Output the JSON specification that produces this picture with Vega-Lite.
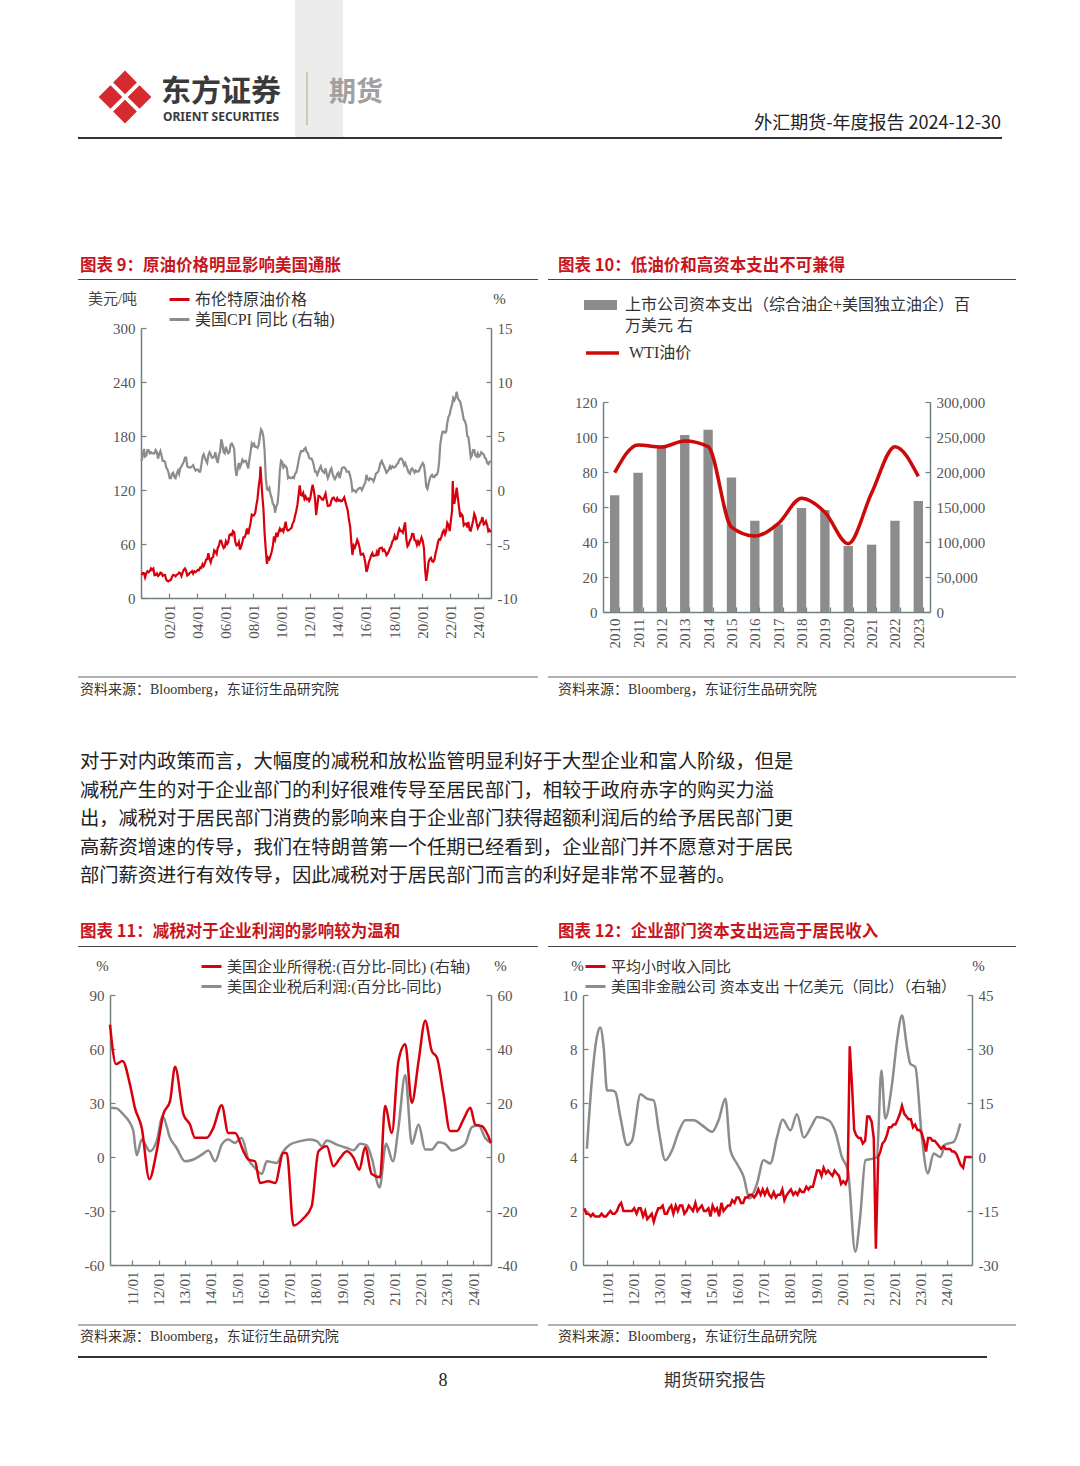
{
"$schema": "https://vega.github.io/schema/vega-lite/v6.json",
"width": 1080, "height": 1466,
"autosize": {"type": "none"},
"padding": 0,
"background": "#ffffff",
"data": {"values": [{}]},
"datasets": {
"brent": [
{"t":2000.04,"v":25.5},{"t":2000.13,"v":27.8},{"t":2000.21,"v":27.5},{"t":2000.29,"v":22.8},{"t":2000.38,"v":27.6},{"t":2000.46,"v":29.8},{"t":2000.54,"v":28.6},{"t":2000.63,"v":30.1},{"t":2000.71,"v":32.9},{"t":2000.79,"v":31.1},{"t":2000.88,"v":32.6},{"t":2000.96,"v":25.3},
{"t":2001.04,"v":25.6},{"t":2001.13,"v":27.4},{"t":2001.21,"v":24.5},{"t":2001.29,"v":25.6},{"t":2001.38,"v":28.2},{"t":2001.46,"v":27.6},{"t":2001.54,"v":24.5},{"t":2001.63,"v":25.7},{"t":2001.71,"v":25.6},{"t":2001.79,"v":20.5},{"t":2001.88,"v":18.9},{"t":2001.96,"v":18.6},
{"t":2002.04,"v":19.4},{"t":2002.13,"v":20.3},{"t":2002.21,"v":23.7},{"t":2002.29,"v":25.7},{"t":2002.38,"v":25.4},{"t":2002.46,"v":24.1},{"t":2002.54,"v":25.7},{"t":2002.63,"v":26.6},{"t":2002.71,"v":28.4},{"t":2002.79,"v":27.6},{"t":2002.88,"v":24.3},{"t":2002.96,"v":28.3},
{"t":2003.04,"v":31.2},{"t":2003.13,"v":32.8},{"t":2003.21,"v":30.3},{"t":2003.29,"v":25.0},{"t":2003.38,"v":25.8},{"t":2003.46,"v":27.6},{"t":2003.54,"v":28.4},{"t":2003.63,"v":29.8},{"t":2003.71,"v":27.1},{"t":2003.79,"v":29.6},{"t":2003.88,"v":28.8},{"t":2003.96,"v":29.8},
{"t":2004.04,"v":31.2},{"t":2004.13,"v":30.9},{"t":2004.21,"v":33.8},{"t":2004.29,"v":33.4},{"t":2004.38,"v":37.6},{"t":2004.46,"v":35.5},{"t":2004.54,"v":38.2},{"t":2004.63,"v":42.7},{"t":2004.71,"v":43.2},{"t":2004.79,"v":49.8},{"t":2004.88,"v":43.1},{"t":2004.96,"v":39.7},
{"t":2005.04,"v":44.3},{"t":2005.13,"v":45.6},{"t":2005.21,"v":53.1},{"t":2005.29,"v":51.9},{"t":2005.38,"v":49.0},{"t":2005.46,"v":55.6},{"t":2005.54,"v":57.9},{"t":2005.63,"v":63.8},{"t":2005.71,"v":63.7},{"t":2005.79,"v":58.9},{"t":2005.88,"v":55.5},{"t":2005.96,"v":56.7},
{"t":2006.04,"v":63.0},{"t":2006.13,"v":60.0},{"t":2006.21,"v":62.0},{"t":2006.29,"v":70.0},{"t":2006.38,"v":70.9},{"t":2006.46,"v":69.8},{"t":2006.54,"v":74.4},{"t":2006.63,"v":73.0},{"t":2006.71,"v":62.5},{"t":2006.79,"v":58.5},{"t":2006.88,"v":58.8},{"t":2006.96,"v":62.0},
{"t":2007.04,"v":53.7},{"t":2007.13,"v":57.6},{"t":2007.21,"v":62.1},{"t":2007.29,"v":67.4},{"t":2007.38,"v":67.5},{"t":2007.46,"v":71.3},{"t":2007.54,"v":77.2},{"t":2007.63,"v":70.8},{"t":2007.71,"v":77.1},{"t":2007.79,"v":82.9},{"t":2007.88,"v":92.5},{"t":2007.96,"v":91.5},
{"t":2008.04,"v":91.9},{"t":2008.13,"v":94.8},{"t":2008.21,"v":103.3},{"t":2008.29,"v":110.4},{"t":2008.38,"v":124.6},{"t":2008.46,"v":133.5},{"t":2008.5,"v":146.0},{"t":2008.54,"v":135.0},{"t":2008.63,"v":113.9},{"t":2008.71,"v":99.1},{"t":2008.79,"v":72.8},{"t":2008.88,"v":53.2},{"t":2008.96,"v":38.0},
{"t":2009.04,"v":44.9},{"t":2009.13,"v":43.1},{"t":2009.21,"v":46.8},{"t":2009.29,"v":50.8},{"t":2009.38,"v":57.9},{"t":2009.46,"v":68.6},{"t":2009.54,"v":64.9},{"t":2009.63,"v":72.5},{"t":2009.71,"v":67.7},{"t":2009.79,"v":73.2},{"t":2009.88,"v":77.0},{"t":2009.96,"v":74.7},
{"t":2010.04,"v":76.2},{"t":2010.13,"v":73.8},{"t":2010.21,"v":78.8},{"t":2010.29,"v":84.8},{"t":2010.38,"v":75.9},{"t":2010.46,"v":74.8},{"t":2010.54,"v":75.6},{"t":2010.63,"v":77.0},{"t":2010.71,"v":78.0},{"t":2010.79,"v":82.7},{"t":2010.88,"v":85.3},{"t":2010.96,"v":91.4},
{"t":2011.04,"v":96.5},{"t":2011.13,"v":103.7},{"t":2011.21,"v":114.6},{"t":2011.29,"v":125.0},{"t":2011.38,"v":114.5},{"t":2011.46,"v":113.9},{"t":2011.54,"v":116.7},{"t":2011.63,"v":110.1},{"t":2011.71,"v":112.8},{"t":2011.79,"v":109.6},{"t":2011.88,"v":110.5},{"t":2011.96,"v":107.9},
{"t":2012.04,"v":110.7},{"t":2012.13,"v":119.3},{"t":2012.21,"v":126.0},{"t":2012.29,"v":119.8},{"t":2012.38,"v":110.3},{"t":2012.46,"v":92.0},{"t":2012.54,"v":102.6},{"t":2012.63,"v":113.4},{"t":2012.71,"v":113.0},{"t":2012.79,"v":111.5},{"t":2012.88,"v":109.5},{"t":2012.96,"v":109.2},
{"t":2013.04,"v":112.3},{"t":2013.13,"v":116.1},{"t":2013.21,"v":108.5},{"t":2013.29,"v":102.3},{"t":2013.38,"v":102.6},{"t":2013.46,"v":102.9},{"t":2013.54,"v":107.9},{"t":2013.63,"v":111.3},{"t":2013.71,"v":111.6},{"t":2013.79,"v":109.1},{"t":2013.88,"v":107.8},{"t":2013.96,"v":110.8},
{"t":2014.04,"v":108.1},{"t":2014.13,"v":108.9},{"t":2014.21,"v":107.5},{"t":2014.29,"v":107.8},{"t":2014.38,"v":109.7},{"t":2014.46,"v":111.8},{"t":2014.54,"v":106.8},{"t":2014.63,"v":101.6},{"t":2014.71,"v":97.1},{"t":2014.79,"v":87.4},{"t":2014.88,"v":79.4},{"t":2014.96,"v":62.3},
{"t":2015.04,"v":47.8},{"t":2015.13,"v":58.1},{"t":2015.21,"v":55.9},{"t":2015.29,"v":59.5},{"t":2015.38,"v":64.6},{"t":2015.46,"v":61.7},{"t":2015.54,"v":56.8},{"t":2015.63,"v":48.2},{"t":2015.71,"v":48.5},{"t":2015.79,"v":49.3},{"t":2015.88,"v":45.9},{"t":2015.96,"v":38.9},
{"t":2016.04,"v":29.0},{"t":2016.13,"v":33.4},{"t":2016.21,"v":39.8},{"t":2016.29,"v":43.3},{"t":2016.38,"v":47.7},{"t":2016.46,"v":49.9},{"t":2016.54,"v":46.6},{"t":2016.63,"v":47.2},{"t":2016.71,"v":47.2},{"t":2016.79,"v":51.4},{"t":2016.88,"v":47.1},{"t":2016.96,"v":54.9},
{"t":2017.04,"v":55.5},{"t":2017.13,"v":55.9},{"t":2017.21,"v":52.5},{"t":2017.29,"v":53.8},{"t":2017.38,"v":51.4},{"t":2017.46,"v":47.6},{"t":2017.54,"v":49.1},{"t":2017.63,"v":51.9},{"t":2017.71,"v":55.2},{"t":2017.79,"v":57.5},{"t":2017.88,"v":62.7},{"t":2017.96,"v":64.4},
{"t":2018.04,"v":69.1},{"t":2018.13,"v":65.3},{"t":2018.21,"v":66.0},{"t":2018.29,"v":72.1},{"t":2018.38,"v":76.9},{"t":2018.46,"v":74.4},{"t":2018.54,"v":74.3},{"t":2018.63,"v":72.5},{"t":2018.71,"v":78.9},{"t":2018.79,"v":84.0},{"t":2018.88,"v":64.7},{"t":2018.96,"v":57.4},
{"t":2019.04,"v":59.4},{"t":2019.13,"v":64.0},{"t":2019.21,"v":66.1},{"t":2019.29,"v":71.2},{"t":2019.38,"v":71.1},{"t":2019.46,"v":64.2},{"t":2019.54,"v":63.9},{"t":2019.63,"v":59.0},{"t":2019.71,"v":62.8},{"t":2019.79,"v":59.7},{"t":2019.88,"v":63.2},{"t":2019.96,"v":67.3},
{"t":2020.04,"v":63.7},{"t":2020.13,"v":55.5},{"t":2020.21,"v":32.0},{"t":2020.29,"v":19.0},{"t":2020.38,"v":29.4},{"t":2020.46,"v":40.3},{"t":2020.54,"v":43.2},{"t":2020.63,"v":44.7},{"t":2020.71,"v":40.9},{"t":2020.79,"v":40.2},{"t":2020.88,"v":42.7},{"t":2020.96,"v":49.9},
{"t":2021.04,"v":54.8},{"t":2021.13,"v":62.3},{"t":2021.21,"v":65.4},{"t":2021.29,"v":64.8},{"t":2021.38,"v":68.5},{"t":2021.46,"v":73.2},{"t":2021.54,"v":75.2},{"t":2021.63,"v":70.8},{"t":2021.71,"v":74.5},{"t":2021.79,"v":83.5},{"t":2021.88,"v":80.8},{"t":2021.96,"v":74.3},
{"t":2022.04,"v":85.5},{"t":2022.13,"v":97.1},{"t":2022.18,"v":130.0},{"t":2022.21,"v":117.3},{"t":2022.29,"v":104.6},{"t":2022.38,"v":113.3},{"t":2022.46,"v":122.7},{"t":2022.54,"v":111.9},{"t":2022.63,"v":100.5},{"t":2022.71,"v":89.8},{"t":2022.79,"v":93.3},{"t":2022.88,"v":91.4},{"t":2022.96,"v":80.9},
{"t":2023.04,"v":82.5},{"t":2023.13,"v":82.6},{"t":2023.21,"v":78.4},{"t":2023.29,"v":84.6},{"t":2023.38,"v":75.5},{"t":2023.46,"v":74.8},{"t":2023.54,"v":80.1},{"t":2023.63,"v":86.2},{"t":2023.71,"v":93.7},{"t":2023.79,"v":90.6},{"t":2023.88,"v":82.9},{"t":2023.96,"v":77.6},
{"t":2024.04,"v":80.1},{"t":2024.13,"v":83.5},{"t":2024.21,"v":85.4},{"t":2024.29,"v":89.9},{"t":2024.38,"v":81.8},{"t":2024.46,"v":82.6},{"t":2024.54,"v":85.3},{"t":2024.63,"v":80.9},{"t":2024.71,"v":74.3},{"t":2024.79,"v":75.6},{"t":2024.88,"v":73.0}
],
"cpi": [
{"t":2000.04,"v":2.7},{"t":2000.13,"v":3.2},{"t":2000.21,"v":3.8},{"t":2000.29,"v":3.1},{"t":2000.38,"v":3.2},{"t":2000.46,"v":3.7},{"t":2000.54,"v":3.7},{"t":2000.63,"v":3.4},{"t":2000.71,"v":3.5},{"t":2000.79,"v":3.4},{"t":2000.88,"v":3.4},{"t":2000.96,"v":3.4},
{"t":2001.04,"v":3.7},{"t":2001.13,"v":3.5},{"t":2001.21,"v":2.9},{"t":2001.29,"v":3.3},{"t":2001.38,"v":3.6},{"t":2001.46,"v":3.2},{"t":2001.54,"v":2.7},{"t":2001.63,"v":2.7},{"t":2001.71,"v":2.6},{"t":2001.79,"v":2.1},{"t":2001.88,"v":1.9},{"t":2001.96,"v":1.6},
{"t":2002.04,"v":1.1},{"t":2002.13,"v":1.1},{"t":2002.21,"v":1.5},{"t":2002.29,"v":1.6},{"t":2002.38,"v":1.2},{"t":2002.46,"v":1.1},{"t":2002.54,"v":1.5},{"t":2002.63,"v":1.8},{"t":2002.71,"v":1.5},{"t":2002.79,"v":2.0},{"t":2002.88,"v":2.2},{"t":2002.96,"v":2.4},
{"t":2003.04,"v":2.6},{"t":2003.13,"v":3.0},{"t":2003.21,"v":3.0},{"t":2003.29,"v":2.2},{"t":2003.38,"v":2.1},{"t":2003.46,"v":2.1},{"t":2003.54,"v":2.1},{"t":2003.63,"v":2.2},{"t":2003.71,"v":2.3},{"t":2003.79,"v":2.0},{"t":2003.88,"v":1.8},{"t":2003.96,"v":1.9},
{"t":2004.04,"v":1.9},{"t":2004.13,"v":1.7},{"t":2004.21,"v":1.7},{"t":2004.29,"v":2.3},{"t":2004.38,"v":3.1},{"t":2004.46,"v":3.3},{"t":2004.54,"v":3.0},{"t":2004.63,"v":2.7},{"t":2004.71,"v":2.5},{"t":2004.79,"v":3.2},{"t":2004.88,"v":3.5},{"t":2004.96,"v":3.3},
{"t":2005.04,"v":3.0},{"t":2005.13,"v":3.0},{"t":2005.21,"v":3.1},{"t":2005.29,"v":3.5},{"t":2005.38,"v":2.8},{"t":2005.46,"v":2.5},{"t":2005.54,"v":3.2},{"t":2005.63,"v":3.6},{"t":2005.71,"v":4.7},{"t":2005.79,"v":4.3},{"t":2005.88,"v":3.5},{"t":2005.96,"v":3.4},
{"t":2006.04,"v":4.0},{"t":2006.13,"v":3.6},{"t":2006.21,"v":3.4},{"t":2006.29,"v":3.5},{"t":2006.38,"v":4.2},{"t":2006.46,"v":4.3},{"t":2006.54,"v":4.1},{"t":2006.63,"v":3.8},{"t":2006.71,"v":2.1},{"t":2006.79,"v":1.3},{"t":2006.88,"v":2.0},{"t":2006.96,"v":2.5},
{"t":2007.04,"v":2.1},{"t":2007.13,"v":2.4},{"t":2007.21,"v":2.8},{"t":2007.29,"v":2.6},{"t":2007.38,"v":2.7},{"t":2007.46,"v":2.7},{"t":2007.54,"v":2.4},{"t":2007.63,"v":2.0},{"t":2007.71,"v":2.8},{"t":2007.79,"v":3.5},{"t":2007.88,"v":4.3},{"t":2007.96,"v":4.1},
{"t":2008.04,"v":4.3},{"t":2008.13,"v":4.0},{"t":2008.21,"v":4.0},{"t":2008.29,"v":3.9},{"t":2008.38,"v":4.2},{"t":2008.46,"v":5.0},{"t":2008.54,"v":5.6},{"t":2008.63,"v":5.4},{"t":2008.71,"v":4.9},{"t":2008.79,"v":3.7},{"t":2008.88,"v":1.1},{"t":2008.96,"v":0.1},
{"t":2009.04,"v":0.0},{"t":2009.13,"v":0.2},{"t":2009.21,"v":-0.4},{"t":2009.29,"v":-0.7},{"t":2009.38,"v":-1.3},{"t":2009.46,"v":-1.4},{"t":2009.54,"v":-2.1},{"t":2009.63,"v":-1.5},{"t":2009.71,"v":-1.3},{"t":2009.79,"v":-0.2},{"t":2009.88,"v":1.8},{"t":2009.96,"v":2.7},
{"t":2010.04,"v":2.6},{"t":2010.13,"v":2.1},{"t":2010.21,"v":2.3},{"t":2010.29,"v":2.2},{"t":2010.38,"v":2.0},{"t":2010.46,"v":1.1},{"t":2010.54,"v":1.2},{"t":2010.63,"v":1.1},{"t":2010.71,"v":1.1},{"t":2010.79,"v":1.2},{"t":2010.88,"v":1.1},{"t":2010.96,"v":1.5},
{"t":2011.04,"v":1.6},{"t":2011.13,"v":2.1},{"t":2011.21,"v":2.7},{"t":2011.29,"v":3.2},{"t":2011.38,"v":3.6},{"t":2011.46,"v":3.6},{"t":2011.54,"v":3.6},{"t":2011.63,"v":3.8},{"t":2011.71,"v":3.9},{"t":2011.79,"v":3.5},{"t":2011.88,"v":3.4},{"t":2011.96,"v":3.0},
{"t":2012.04,"v":2.9},{"t":2012.13,"v":2.9},{"t":2012.21,"v":2.7},{"t":2012.29,"v":2.3},{"t":2012.38,"v":1.7},{"t":2012.46,"v":1.7},{"t":2012.54,"v":1.4},{"t":2012.63,"v":1.7},{"t":2012.71,"v":2.0},{"t":2012.79,"v":2.2},{"t":2012.88,"v":1.8},{"t":2012.96,"v":1.7},
{"t":2013.04,"v":1.6},{"t":2013.13,"v":2.0},{"t":2013.21,"v":1.5},{"t":2013.29,"v":1.1},{"t":2013.38,"v":1.4},{"t":2013.46,"v":1.8},{"t":2013.54,"v":2.0},{"t":2013.63,"v":1.5},{"t":2013.71,"v":1.2},{"t":2013.79,"v":1.0},{"t":2013.88,"v":1.2},{"t":2013.96,"v":1.5},
{"t":2014.04,"v":1.6},{"t":2014.13,"v":1.1},{"t":2014.21,"v":1.5},{"t":2014.29,"v":2.0},{"t":2014.38,"v":2.1},{"t":2014.46,"v":2.1},{"t":2014.54,"v":2.0},{"t":2014.63,"v":1.7},{"t":2014.71,"v":1.7},{"t":2014.79,"v":1.7},{"t":2014.88,"v":1.3},{"t":2014.96,"v":0.8},
{"t":2015.04,"v":-0.1},{"t":2015.13,"v":0.0},{"t":2015.21,"v":-0.1},{"t":2015.29,"v":-0.2},{"t":2015.38,"v":0.0},{"t":2015.46,"v":0.1},{"t":2015.54,"v":0.2},{"t":2015.63,"v":0.2},{"t":2015.71,"v":0.0},{"t":2015.79,"v":0.2},{"t":2015.88,"v":0.5},{"t":2015.96,"v":0.7},
{"t":2016.04,"v":1.4},{"t":2016.13,"v":1.0},{"t":2016.21,"v":0.9},{"t":2016.29,"v":1.1},{"t":2016.38,"v":1.0},{"t":2016.46,"v":1.0},{"t":2016.54,"v":0.8},{"t":2016.63,"v":1.1},{"t":2016.71,"v":1.5},{"t":2016.79,"v":1.6},{"t":2016.88,"v":1.7},{"t":2016.96,"v":2.1},
{"t":2017.04,"v":2.5},{"t":2017.13,"v":2.7},{"t":2017.21,"v":2.4},{"t":2017.29,"v":2.2},{"t":2017.38,"v":1.9},{"t":2017.46,"v":1.6},{"t":2017.54,"v":1.7},{"t":2017.63,"v":1.9},{"t":2017.71,"v":2.2},{"t":2017.79,"v":2.0},{"t":2017.88,"v":2.2},{"t":2017.96,"v":2.1},
{"t":2018.04,"v":2.1},{"t":2018.13,"v":2.2},{"t":2018.21,"v":2.4},{"t":2018.29,"v":2.5},{"t":2018.38,"v":2.8},{"t":2018.46,"v":2.9},{"t":2018.54,"v":2.9},{"t":2018.63,"v":2.7},{"t":2018.71,"v":2.3},{"t":2018.79,"v":2.5},{"t":2018.88,"v":2.2},{"t":2018.96,"v":1.9},
{"t":2019.04,"v":1.6},{"t":2019.13,"v":1.5},{"t":2019.21,"v":1.9},{"t":2019.29,"v":2.0},{"t":2019.38,"v":1.8},{"t":2019.46,"v":1.6},{"t":2019.54,"v":1.8},{"t":2019.63,"v":1.7},{"t":2019.71,"v":1.7},{"t":2019.79,"v":1.8},{"t":2019.88,"v":2.1},{"t":2019.96,"v":2.3},
{"t":2020.04,"v":2.5},{"t":2020.13,"v":2.3},{"t":2020.21,"v":1.5},{"t":2020.29,"v":0.3},{"t":2020.38,"v":0.1},{"t":2020.46,"v":0.6},{"t":2020.54,"v":1.0},{"t":2020.63,"v":1.3},{"t":2020.71,"v":1.4},{"t":2020.79,"v":1.2},{"t":2020.88,"v":1.2},{"t":2020.96,"v":1.4},
{"t":2021.04,"v":1.4},{"t":2021.13,"v":1.7},{"t":2021.21,"v":2.6},{"t":2021.29,"v":4.2},{"t":2021.38,"v":5.0},{"t":2021.46,"v":5.4},{"t":2021.54,"v":5.4},{"t":2021.63,"v":5.3},{"t":2021.71,"v":5.4},{"t":2021.79,"v":6.2},{"t":2021.88,"v":6.8},{"t":2021.96,"v":7.0},
{"t":2022.04,"v":7.5},{"t":2022.13,"v":7.9},{"t":2022.21,"v":8.5},{"t":2022.29,"v":8.3},{"t":2022.38,"v":8.6},{"t":2022.46,"v":9.1},{"t":2022.54,"v":8.5},{"t":2022.63,"v":8.3},{"t":2022.71,"v":8.2},{"t":2022.79,"v":7.7},{"t":2022.88,"v":7.1},{"t":2022.96,"v":6.5},
{"t":2023.04,"v":6.4},{"t":2023.13,"v":6.0},{"t":2023.21,"v":5.0},{"t":2023.29,"v":4.9},{"t":2023.38,"v":4.0},{"t":2023.46,"v":3.0},{"t":2023.54,"v":3.2},{"t":2023.63,"v":3.7},{"t":2023.71,"v":3.7},{"t":2023.79,"v":3.2},{"t":2023.88,"v":3.1},{"t":2023.96,"v":3.4},
{"t":2024.04,"v":3.1},{"t":2024.13,"v":3.2},{"t":2024.21,"v":3.5},{"t":2024.29,"v":3.4},{"t":2024.38,"v":3.3},{"t":2024.46,"v":3.0},{"t":2024.54,"v":2.9},{"t":2024.63,"v":2.5},{"t":2024.71,"v":2.4},{"t":2024.79,"v":2.6},{"t":2024.88,"v":2.7}
],
"c10": [
{"year":"2010","capex":166700,"wti":79.6},{"year":"2011","capex":199000,"wti":95.5},{"year":"2012","capex":236000,"wti":94.3},{"year":"2013","capex":252800,"wti":97.7},{"year":"2014","capex":260500,"wti":94.5},{"year":"2015","capex":192000,"wti":48.5},{"year":"2016","capex":130500,"wti":43.4},{"year":"2017","capex":125000,"wti":50.5},{"year":"2018","capex":148600,"wti":65.0},{"year":"2019","capex":145700,"wti":57.0},{"year":"2020","capex":94300,"wti":39.0},{"year":"2021","capex":96200,"wti":68.0},{"year":"2022","capex":130500,"wti":94.5},{"year":"2023","capex":158600,"wti":77.5}
],
"tax": [
{"t":2010.15,"v":49.0},{"t":2010.38,"v":34.4},{"t":2010.63,"v":35.6},{"t":2010.91,"v":26.9},{"t":2011.1,"v":18.2},{"t":2011.36,"v":10.8},{"t":2011.65,"v":-8.2},{"t":2011.93,"v":2.1},{"t":2012.18,"v":15.8},{"t":2012.44,"v":20.7},{"t":2012.63,"v":33.4},{"t":2012.95,"v":15.8},{"t":2013.2,"v":12.0},{"t":2013.39,"v":7.1},{"t":2013.84,"v":7.1},{"t":2014.09,"v":10.8},{"t":2014.41,"v":19.2},{"t":2014.66,"v":8.9},{"t":2014.92,"v":8.9},{"t":2015.24,"v":2.1},{"t":2015.43,"v":-1.0},{"t":2015.68,"v":-1.6},{"t":2015.87,"v":-9.6},{"t":2016.19,"v":-9.0},{"t":2016.45,"v":-9.6},{"t":2016.76,"v":1.5},{"t":2016.89,"v":1.5},{"t":2017.15,"v":-25.4},{"t":2017.53,"v":-22.7},{"t":2017.84,"v":-18.3},{"t":2018.1,"v":2.1},{"t":2018.42,"v":4.0},{"t":2018.67,"v":-3.4},{"t":2018.93,"v":-0.3},{"t":2019.18,"v":2.1},{"t":2019.44,"v":-0.3},{"t":2019.66,"v":-4.7},{"t":2019.88,"v":3.6},{"t":2020.13,"v":-6.3},{"t":2020.45,"v":-7.5},{"t":2020.64,"v":18.9},{"t":2020.9,"v":8.9},{"t":2021.15,"v":35.6},{"t":2021.41,"v":41.8},{"t":2021.66,"v":20.1},{"t":2021.92,"v":35.6},{"t":2022.17,"v":50.5},{"t":2022.42,"v":39.3},{"t":2022.62,"v":36.8},{"t":2022.87,"v":23.2},{"t":2023.12,"v":9.6},{"t":2023.38,"v":9.6},{"t":2023.63,"v":13.9},{"t":2023.89,"v":18.2},{"t":2024.08,"v":12.0},{"t":2024.34,"v":11.4},{"t":2024.68,"v":5.2}
],
"profit": [
{"t":2010.15,"v":27.4},{"t":2010.4,"v":27.0},{"t":2010.66,"v":23.6},{"t":2010.91,"v":19.0},{"t":2011.04,"v":14.3},{"t":2011.17,"v":1.0},{"t":2011.36,"v":9.7},{"t":2011.67,"v":3.2},{"t":2011.93,"v":8.8},{"t":2012.16,"v":22.7},{"t":2012.44,"v":10.6},{"t":2012.69,"v":5.0},{"t":2013.01,"v":-2.4},{"t":2013.33,"v":-1.4},{"t":2013.65,"v":1.3},{"t":2013.9,"v":3.6},{"t":2014.16,"v":-2.4},{"t":2014.41,"v":6.9},{"t":2014.66,"v":9.7},{"t":2014.92,"v":7.8},{"t":2015.17,"v":10.6},{"t":2015.43,"v":-1.4},{"t":2015.68,"v":-6.1},{"t":2015.94,"v":-9.4},{"t":2016.13,"v":-2.4},{"t":2016.51,"v":-3.3},{"t":2016.76,"v":3.2},{"t":2017.02,"v":6.9},{"t":2017.4,"v":8.8},{"t":2017.78,"v":9.7},{"t":2018.04,"v":8.8},{"t":2018.23,"v":6.0},{"t":2018.42,"v":9.1},{"t":2018.8,"v":6.9},{"t":2019.18,"v":5.0},{"t":2019.44,"v":3.8},{"t":2019.69,"v":7.3},{"t":2019.94,"v":6.4},{"t":2020.13,"v":-0.5},{"t":2020.43,"v":-16.9},{"t":2020.68,"v":7.3},{"t":2020.94,"v":-2.4},{"t":2021.15,"v":16.2},{"t":2021.41,"v":45.6},{"t":2021.66,"v":7.3},{"t":2021.92,"v":18.1},{"t":2022.17,"v":4.1},{"t":2022.42,"v":4.1},{"t":2022.68,"v":8.2},{"t":2022.93,"v":7.3},{"t":2023.19,"v":3.6},{"t":2023.44,"v":4.7},{"t":2023.7,"v":7.3},{"t":2023.95,"v":16.6},{"t":2024.21,"v":17.7},{"t":2024.46,"v":10.6},{"t":2024.68,"v":7.8}
],
"ahe": [
{"t":2010.13,"v":2.1},{"t":2010.21,"v":1.9},{"t":2010.29,"v":1.9},{"t":2010.38,"v":1.8},{"t":2010.46,"v":1.9},{"t":2010.54,"v":1.8},{"t":2010.63,"v":1.8},{"t":2010.71,"v":1.8},{"t":2010.79,"v":1.9},{"t":2010.88,"v":1.8},{"t":2010.96,"v":1.8},
{"t":2011.04,"v":1.9},{"t":2011.13,"v":2.0},{"t":2011.21,"v":1.9},{"t":2011.29,"v":1.9},{"t":2011.38,"v":2.0},{"t":2011.46,"v":2.2},{"t":2011.54,"v":2.3},{"t":2011.63,"v":2.0},{"t":2011.71,"v":2.0},{"t":2011.79,"v":2.0},{"t":2011.88,"v":2.0},{"t":2011.96,"v":2.0},
{"t":2012.04,"v":2.1},{"t":2012.13,"v":1.9},{"t":2012.21,"v":2.1},{"t":2012.29,"v":2.1},{"t":2012.38,"v":1.8},{"t":2012.46,"v":2.0},{"t":2012.54,"v":1.7},{"t":2012.63,"v":1.8},{"t":2012.71,"v":1.9},{"t":2012.79,"v":1.6},{"t":2012.88,"v":1.9},{"t":2012.96,"v":2.1},
{"t":2013.04,"v":2.1},{"t":2013.13,"v":2.2},{"t":2013.21,"v":1.9},{"t":2013.29,"v":1.9},{"t":2013.38,"v":2.1},{"t":2013.46,"v":2.2},{"t":2013.54,"v":1.9},{"t":2013.63,"v":2.2},{"t":2013.71,"v":2.0},{"t":2013.79,"v":2.2},{"t":2013.88,"v":2.2},{"t":2013.96,"v":1.9},
{"t":2014.04,"v":2.0},{"t":2014.13,"v":2.2},{"t":2014.21,"v":2.1},{"t":2014.29,"v":2.0},{"t":2014.38,"v":2.3},{"t":2014.46,"v":2.0},{"t":2014.54,"v":2.1},{"t":2014.63,"v":2.2},{"t":2014.71,"v":2.0},{"t":2014.79,"v":2.0},{"t":2014.88,"v":2.1},{"t":2014.96,"v":1.8},
{"t":2015.04,"v":2.2},{"t":2015.13,"v":2.0},{"t":2015.21,"v":2.1},{"t":2015.29,"v":1.8},{"t":2015.38,"v":2.3},{"t":2015.46,"v":2.0},{"t":2015.54,"v":2.1},{"t":2015.63,"v":2.2},{"t":2015.71,"v":2.2},{"t":2015.79,"v":2.4},{"t":2015.88,"v":2.3},{"t":2015.96,"v":2.5},
{"t":2016.04,"v":2.5},{"t":2016.13,"v":2.3},{"t":2016.21,"v":2.3},{"t":2016.29,"v":2.5},{"t":2016.38,"v":2.5},{"t":2016.46,"v":2.6},{"t":2016.54,"v":2.6},{"t":2016.63,"v":2.5},{"t":2016.71,"v":2.6},{"t":2016.79,"v":2.8},{"t":2016.88,"v":2.6},{"t":2016.96,"v":2.8},
{"t":2017.04,"v":2.6},{"t":2017.13,"v":2.8},{"t":2017.21,"v":2.6},{"t":2017.29,"v":2.5},{"t":2017.38,"v":2.7},{"t":2017.46,"v":2.5},{"t":2017.54,"v":2.6},{"t":2017.63,"v":2.6},{"t":2017.71,"v":2.8},{"t":2017.79,"v":2.4},{"t":2017.88,"v":2.6},{"t":2017.96,"v":2.7},
{"t":2018.04,"v":2.8},{"t":2018.13,"v":2.6},{"t":2018.21,"v":2.7},{"t":2018.29,"v":2.6},{"t":2018.38,"v":2.8},{"t":2018.46,"v":2.7},{"t":2018.54,"v":2.7},{"t":2018.63,"v":2.9},{"t":2018.71,"v":2.8},{"t":2018.79,"v":2.9},{"t":2018.88,"v":2.9},{"t":2018.96,"v":3.2},
{"t":2019.04,"v":3.5},{"t":2019.13,"v":3.5},{"t":2019.21,"v":3.3},{"t":2019.29,"v":3.6},{"t":2019.38,"v":3.4},{"t":2019.46,"v":3.5},{"t":2019.54,"v":3.4},{"t":2019.63,"v":3.3},{"t":2019.71,"v":3.5},{"t":2019.79,"v":3.4},{"t":2019.88,"v":3.3},{"t":2019.96,"v":3.0},
{"t":2020.04,"v":3.1},{"t":2020.13,"v":3.0},{"t":2020.21,"v":3.2},{"t":2020.29,"v":8.1},{"t":2020.38,"v":6.6},{"t":2020.46,"v":5.0},{"t":2020.54,"v":4.8},{"t":2020.63,"v":4.7},{"t":2020.71,"v":4.7},{"t":2020.79,"v":4.5},{"t":2020.88,"v":4.6},{"t":2020.96,"v":5.5},
{"t":2021.04,"v":5.5},{"t":2021.13,"v":5.3},{"t":2021.21,"v":4.7},{"t":2021.29,"v":0.6},{"t":2021.38,"v":4.0},{"t":2021.46,"v":4.2},{"t":2021.54,"v":4.5},{"t":2021.63,"v":4.6},{"t":2021.71,"v":4.8},{"t":2021.79,"v":5.1},{"t":2021.88,"v":5.1},{"t":2021.96,"v":5.2},
{"t":2022.04,"v":5.2},{"t":2022.13,"v":5.4},{"t":2022.21,"v":5.6},{"t":2022.29,"v":5.9},{"t":2022.38,"v":5.6},{"t":2022.46,"v":5.5},{"t":2022.54,"v":5.4},{"t":2022.63,"v":5.4},{"t":2022.71,"v":5.1},{"t":2022.79,"v":5.2},{"t":2022.88,"v":5.0},{"t":2022.96,"v":5.0},
{"t":2023.04,"v":4.9},{"t":2023.13,"v":4.6},{"t":2023.21,"v":4.2},{"t":2023.29,"v":4.7},{"t":2023.38,"v":4.7},{"t":2023.46,"v":4.6},{"t":2023.54,"v":4.6},{"t":2023.63,"v":4.5},{"t":2023.71,"v":4.4},{"t":2023.79,"v":4.3},{"t":2023.88,"v":4.4},{"t":2023.96,"v":4.3},
{"t":2024.04,"v":4.3},{"t":2024.13,"v":4.3},{"t":2024.21,"v":4.2},{"t":2024.29,"v":4.2},{"t":2024.38,"v":4.1},{"t":2024.46,"v":3.9},{"t":2024.54,"v":3.7},{"t":2024.63,"v":3.6},{"t":2024.71,"v":4.0},{"t":2024.79,"v":4.0},{"t":2024.88,"v":4.0},{"t":2024.96,"v":4.0}
],
"capex": [
{"t":2010.23,"v":2.3},{"t":2010.43,"v":22.2},{"t":2010.62,"v":33.7},{"t":2010.74,"v":36.0},{"t":2010.87,"v":30.5},{"t":2011.0,"v":18.5},{"t":2011.19,"v":18.5},{"t":2011.32,"v":18.0},{"t":2011.51,"v":11.1},{"t":2011.77,"v":3.3},{"t":2011.96,"v":4.6},{"t":2012.28,"v":17.4},{"t":2012.53,"v":16.2},{"t":2012.79,"v":15.7},{"t":2012.98,"v":7.4},{"t":2013.23,"v":-0.9},{"t":2013.49,"v":1.9},{"t":2013.74,"v":7.0},{"t":2014.0,"v":10.2},{"t":2014.32,"v":10.2},{"t":2014.64,"v":8.8},{"t":2015.02,"v":7.0},{"t":2015.27,"v":10.2},{"t":2015.53,"v":16.2},{"t":2015.72,"v":1.9},{"t":2015.97,"v":-1.8},{"t":2016.23,"v":-5.5},{"t":2016.45,"v":-11.5},{"t":2016.74,"v":-7.4},{"t":2016.99,"v":-0.9},{"t":2017.25,"v":-1.8},{"t":2017.51,"v":5.6},{"t":2017.72,"v":10.4},{"t":2018.02,"v":7.4},{"t":2018.27,"v":11.9},{"t":2018.53,"v":5.4},{"t":2018.84,"v":8.8},{"t":2019.04,"v":11.1},{"t":2019.48,"v":10.2},{"t":2019.74,"v":7.0},{"t":2019.99,"v":0.0},{"t":2020.22,"v":-3.7},{"t":2020.5,"v":-26.3},{"t":2020.69,"v":-16.6},{"t":2020.89,"v":-0.9},{"t":2021.2,"v":-0.4},{"t":2021.33,"v":0.0},{"t":2021.5,"v":24.0},{"t":2021.65,"v":10.7},{"t":2021.91,"v":20.3},{"t":2022.1,"v":32.3},{"t":2022.29,"v":39.3},{"t":2022.48,"v":30.5},{"t":2022.61,"v":25.9},{"t":2022.8,"v":25.0},{"t":2023.05,"v":5.6},{"t":2023.28,"v":-4.6},{"t":2023.5,"v":1.0},{"t":2023.76,"v":0.0},{"t":2023.95,"v":3.5},{"t":2024.27,"v":4.2},{"t":2024.52,"v":9.3}
]
},
"config": {
"view": {"stroke": null},
"font": "Liberation Serif, Noto Sans CJK SC",
"axis": {"domainColor": "#738080", "domainWidth": 1.5, "tickColor": "#738080", "tickWidth": 1.2, "tickSize": -5, "labelFont": "Liberation Serif", "labelFontSize": 15, "labelColor": "#555555", "labelPadding": 11, "grid": false, "titleFont": "Liberation Serif, Noto Sans CJK SC", "titleFontSize": 15, "titleFontWeight": "normal", "titleColor": "#444444", "titleAngle": 0, "titleAlign": "center", "titleBaseline": "middle", "labelOverlap": false},
"legend": {"orient": "none", "padding": 0, "labelFont": "Liberation Serif, Noto Sans CJK SC", "labelFontSize": 15, "labelColor": "#333333", "labelOffset": 4, "rowPadding": 0, "labelLimit": 0, "symbolStrokeWidth": 3}
},
"resolve": {"scale": {"x": "independent", "y": "independent", "color": "independent", "fill": "independent", "stroke": "independent"}},
"layer": [
{"mark": {"type": "rect", "color": "#ececec"}, "encoding": {"x": {"value": 295}, "x2": {"value": 343}, "y": {"value": 0}, "y2": {"value": 138}}},
{"mark": {"type": "point", "shape": "M0,-0.98L0.44,-0.54L0,-0.1L-0.44,-0.54ZM-0.98,0L-0.54,-0.44L-0.1,0L-0.54,0.44ZM0.98,0L0.54,-0.44L0.1,0L0.54,0.44ZM0,0.98L0.44,0.54L0,0.1L-0.44,0.54Z", "size": 2900, "filled": true, "color": "#d52b2f", "opacity": 1, "strokeWidth": 0}, "encoding": {"x": {"value": 125}, "y": {"value": 97}}},
{"mark": {"type": "text", "text": "东方证券", "align": "left", "baseline": "middle", "font": "Noto Sans CJK SC", "fontSize": 30, "fontWeight": "bold", "color": "#3a3a3a"}, "encoding": {"x": {"value": 161}, "y": {"value": 92}}},
{"mark": {"type": "text", "text": "ORIENT SECURITIES", "align": "left", "baseline": "middle", "font": "Noto Sans", "fontSize": 12, "fontWeight": "bold", "color": "#3a3a3a"}, "encoding": {"x": {"value": 163}, "y": {"value": 117}}},
{"mark": {"type": "rule", "color": "#cbbf9f", "strokeWidth": 1.5}, "encoding": {"x": {"value": 307}, "y": {"value": 72}, "y2": {"value": 125}}},
{"mark": {"type": "text", "text": "期货", "align": "left", "baseline": "middle", "font": "Noto Sans CJK SC", "fontSize": 27, "fontWeight": "bold", "color": "#a0a0a0"}, "encoding": {"x": {"value": 329}, "y": {"value": 93}}},
{"mark": {"type": "text", "text": "外汇期货-年度报告 2024-12-30", "align": "right", "baseline": "middle", "font": "Noto Sans CJK SC", "fontSize": 18, "color": "#222222"}, "encoding": {"x": {"value": 1001}, "y": {"value": 124}}},
{"mark": {"type": "rule", "color": "#333333", "strokeWidth": 2}, "encoding": {"x": {"value": 78}, "x2": {"value": 1002}, "y": {"value": 138}}},
{"mark": {"type": "text", "text": "图表 9：原油价格明显影响美国通胀", "align": "left", "baseline": "middle", "font": "Noto Sans CJK SC", "fontSize": 16.5, "fontWeight": "bold", "color": "#c8161d"}, "encoding": {"x": {"value": 80}, "y": {"value": 266}}},
{"mark": {"type": "text", "text": "图表 10：低油价和高资本支出不可兼得", "align": "left", "baseline": "middle", "font": "Noto Sans CJK SC", "fontSize": 16.5, "fontWeight": "bold", "color": "#c8161d"}, "encoding": {"x": {"value": 558}, "y": {"value": 266}}},
{"mark": {"type": "rule", "color": "#444444", "strokeWidth": 1.2}, "encoding": {"x": {"value": 78}, "x2": {"value": 538}, "y": {"value": 279.5}}},
{"mark": {"type": "rule", "color": "#444444", "strokeWidth": 1.2}, "encoding": {"x": {"value": 548}, "x2": {"value": 1016}, "y": {"value": 279.5}}},
{"mark": {"type": "rule", "color": "#666666", "strokeWidth": 1.2}, "encoding": {"x": {"value": 78}, "x2": {"value": 538}, "y": {"value": 677}}},
{"mark": {"type": "rule", "color": "#666666", "strokeWidth": 1.2}, "encoding": {"x": {"value": 548}, "x2": {"value": 1016}, "y": {"value": 677}}},
{"mark": {"type": "text", "text": "资料来源：Bloomberg，东证衍生品研究院", "align": "left", "baseline": "middle", "fontSize": 14, "color": "#333333"}, "encoding": {"x": {"value": 80}, "y": {"value": 690}}},
{"mark": {"type": "text", "text": "资料来源：Bloomberg，东证衍生品研究院", "align": "left", "baseline": "middle", "fontSize": 14, "color": "#333333"}, "encoding": {"x": {"value": 558}, "y": {"value": 690}}},
{"mark": {"type": "text", "text": "对于对内政策而言，大幅度的减税和放松监管明显利好于大型企业和富人阶级，但是", "align": "left", "baseline": "middle", "font": "Noto Sans CJK SC", "fontSize": 19.3, "color": "#222222"}, "encoding": {"x": {"value": 80}, "y": {"value": 762}}},
{"mark": {"type": "text", "text": "减税产生的对于企业部门的利好很难传导至居民部门，相较于政府赤字的购买力溢", "align": "left", "baseline": "middle", "font": "Noto Sans CJK SC", "fontSize": 19.3, "color": "#222222"}, "encoding": {"x": {"value": 80}, "y": {"value": 790.5}}},
{"mark": {"type": "text", "text": "出，减税对于居民部门消费的影响来自于企业部门获得超额利润后的给予居民部门更", "align": "left", "baseline": "middle", "font": "Noto Sans CJK SC", "fontSize": 19.3, "color": "#222222"}, "encoding": {"x": {"value": 80}, "y": {"value": 819}}},
{"mark": {"type": "text", "text": "高薪资增速的传导，我们在特朗普第一个任期已经看到，企业部门并不愿意对于居民", "align": "left", "baseline": "middle", "font": "Noto Sans CJK SC", "fontSize": 19.3, "color": "#222222"}, "encoding": {"x": {"value": 80}, "y": {"value": 847.5}}},
{"mark": {"type": "text", "text": "部门薪资进行有效传导，因此减税对于居民部门而言的利好是非常不显著的。", "align": "left", "baseline": "middle", "font": "Noto Sans CJK SC", "fontSize": 19.3, "color": "#222222"}, "encoding": {"x": {"value": 80}, "y": {"value": 876}}},
{"mark": {"type": "text", "text": "图表 11：减税对于企业利润的影响较为温和", "align": "left", "baseline": "middle", "font": "Noto Sans CJK SC", "fontSize": 16.5, "fontWeight": "bold", "color": "#c8161d"}, "encoding": {"x": {"value": 80}, "y": {"value": 932}}},
{"mark": {"type": "text", "text": "图表 12：企业部门资本支出远高于居民收入", "align": "left", "baseline": "middle", "font": "Noto Sans CJK SC", "fontSize": 16.5, "fontWeight": "bold", "color": "#c8161d"}, "encoding": {"x": {"value": 558}, "y": {"value": 932}}},
{"mark": {"type": "rule", "color": "#444444", "strokeWidth": 1.2}, "encoding": {"x": {"value": 78}, "x2": {"value": 538}, "y": {"value": 946.5}}},
{"mark": {"type": "rule", "color": "#444444", "strokeWidth": 1.2}, "encoding": {"x": {"value": 548}, "x2": {"value": 1016}, "y": {"value": 946.5}}},
{"mark": {"type": "rule", "color": "#666666", "strokeWidth": 1.2}, "encoding": {"x": {"value": 78}, "x2": {"value": 538}, "y": {"value": 1325}}},
{"mark": {"type": "rule", "color": "#666666", "strokeWidth": 1.2}, "encoding": {"x": {"value": 548}, "x2": {"value": 1016}, "y": {"value": 1325}}},
{"mark": {"type": "text", "text": "资料来源：Bloomberg，东证衍生品研究院", "align": "left", "baseline": "middle", "fontSize": 14, "color": "#333333"}, "encoding": {"x": {"value": 80}, "y": {"value": 1337}}},
{"mark": {"type": "text", "text": "资料来源：Bloomberg，东证衍生品研究院", "align": "left", "baseline": "middle", "fontSize": 14, "color": "#333333"}, "encoding": {"x": {"value": 558}, "y": {"value": 1337}}},
{"mark": {"type": "rule", "color": "#333333", "strokeWidth": 2}, "encoding": {"x": {"value": 78}, "x2": {"value": 987}, "y": {"value": 1357}}},
{"mark": {"type": "text", "text": "8", "align": "center", "baseline": "middle", "font": "Liberation Serif", "fontSize": 18, "color": "#222222"}, "encoding": {"x": {"value": 443}, "y": {"value": 1381}}},
{"mark": {"type": "text", "text": "期货研究报告", "align": "center", "baseline": "middle", "font": "Noto Sans CJK SC", "fontSize": 17, "color": "#333333"}, "encoding": {"x": {"value": 715}, "y": {"value": 1381}}},
{"mark": {"type": "text", "text": "万美元 右", "align": "left", "baseline": "middle", "fontSize": 16, "color": "#333333"}, "encoding": {"x": {"value": 625}, "y": {"value": 326}}},
{
"layer": [
{"data": {"name": "cpi"}, "mark": {"type": "line", "strokeWidth": 2.2},
 "encoding": {
  "x": {"field": "t", "type": "quantitative", "scale": {"domain": [2000.0, 2024.9], "range": [141, 491], "nice": false, "zero": false},
        "axis": {"orient": "bottom", "offset": -868, "values": [2002,2004,2006,2008,2010,2012,2014,2016,2018,2020,2022,2024], "labelExpr": "format(datum.value % 100, '02d') + '/01'", "labelAngle": -90, "title": null}},
  "y": {"field": "v", "type": "quantitative", "scale": {"domain": [-10, 15], "range": [598, 328], "nice": false, "zero": false},
        "axis": {"orient": "right", "offset": -589, "values": [-10,-5,0,5,10,15], "labelExpr": "datum.value < 0 ? '-' + abs(datum.value) : '' + datum.value", "title": "%", "titleX": 8, "titleY": 298}},
  "color": {"datum": "美国CPI 同比 (右轴)", "scale": {"domain": ["布伦特原油价格", "美国CPI 同比 (右轴)"], "range": ["#d9000d", "#8c8c8c"]},
        "legend": {"orient": "none", "legendX": 168, "legendY": 288, "title": null, "symbolType": "stroke", "symbolSize": 400, "symbolStrokeWidth": 3, "labelFontSize": 16, "labelOffset": 4}}
 }},
{"data": {"name": "brent"}, "mark": {"type": "line", "strokeWidth": 2.2},
 "encoding": {
  "x": {"field": "t", "type": "quantitative"},
  "y": {"field": "v", "type": "quantitative", "scale": {"domain": [0, 300], "range": [598, 328], "nice": false, "zero": false},
        "axis": {"orient": "left", "offset": -141, "values": [0,60,120,180,240,300], "title": "美元/吨", "titleX": -29, "titleY": 298}},
  "color": {"datum": "布伦特原油价格"}
 }}
],
"resolve": {"scale": {"y": "independent"}}
},
{
"data": {"name": "c10"},
"layer": [
{"mark": {"type": "bar", "strokeWidth": 0},
 "encoding": {
  "x": {"field": "year", "type": "ordinal", "scale": {"range": [603, 930], "paddingInner": 0.6, "paddingOuter": 0.3},
        "axis": {"orient": "bottom", "offset": -854, "labelAngle": -90, "tickBand": "extent", "title": null}},
  "y": {"field": "capex", "type": "quantitative", "scale": {"domain": [0, 300000], "range": [612, 402], "nice": false, "zero": false},
        "axis": {"orient": "right", "offset": -150, "values": [0,50000,100000,150000,200000,250000,300000], "labelExpr": "format(datum.value, ',')", "title": null}},
  "fill": {"datum": "上市公司资本支出（综合油企+美国独立油企）百万美元 右", "scale": {"range": ["#8c8c8c"]},
        "legend": {"orient": "none", "legendX": 584, "legendY": 288.5, "title": null, "symbolType": "M-1,-0.3H1V0.3H-1Z", "symbolSize": 1089, "symbolStrokeWidth": 0, "labelFontSize": 16, "labelOffset": 8, "labelExpr": "'上市公司资本支出（综合油企+美国独立油企）百'"}}
 }},
{"mark": {"type": "line", "interpolate": "monotone", "strokeWidth": 3.5},
 "encoding": {
  "x": {"field": "year", "type": "ordinal"},
  "y": {"field": "wti", "type": "quantitative", "scale": {"domain": [0, 120], "range": [612, 402], "nice": false, "zero": false},
        "axis": {"orient": "left", "offset": -603, "values": [0,20,40,60,80,100,120], "title": null}},
  "stroke": {"datum": "WTI油价", "scale": {"range": ["#cc0a0a"]},
        "legend": {"orient": "none", "legendX": 584, "legendY": 334.5, "title": null, "symbolType": "stroke", "symbolSize": 1089, "symbolStrokeWidth": 3.5, "labelFontSize": 16, "labelOffset": 8}}
 }}
],
"resolve": {"scale": {"y": "independent"}}
},
{
"layer": [
{"data": {"name": "profit"}, "mark": {"type": "line", "interpolate": "monotone", "strokeWidth": 2.5},
 "encoding": {
  "x": {"field": "t", "type": "quantitative", "scale": {"domain": [2010.15, 2024.68], "range": [110, 491], "nice": false, "zero": false},
        "axis": {"orient": "bottom", "offset": -201, "values": [2011,2012,2013,2014,2015,2016,2017,2018,2019,2020,2021,2022,2023,2024], "labelExpr": "format(datum.value % 100, '02d') + '/01'", "labelAngle": -90, "title": null}},
  "y": {"field": "v", "type": "quantitative", "scale": {"domain": [-60, 90], "range": [1265, 995], "nice": false, "zero": false},
        "axis": {"orient": "left", "offset": -110, "values": [-60,-30,0,30,60,90], "labelExpr": "datum.value < 0 ? '-' + abs(datum.value) : '' + datum.value", "title": "%", "titleX": -8, "titleY": 965}},
  "color": {"datum": "美国企业税后利润:(百分比-同比)", "scale": {"domain": ["美国企业所得税:(百分比-同比) (右轴)", "美国企业税后利润:(百分比-同比)"], "range": ["#d9000d", "#8c8c8c"]},
        "legend": {"orient": "none", "legendX": 200, "legendY": 955, "title": null, "symbolType": "stroke", "symbolSize": 400, "symbolStrokeWidth": 3, "labelFontSize": 15, "labelOffset": 4}}
 }},
{"data": {"name": "tax"}, "mark": {"type": "line", "interpolate": "monotone", "strokeWidth": 2.5},
 "encoding": {
  "x": {"field": "t", "type": "quantitative"},
  "y": {"field": "v", "type": "quantitative", "scale": {"domain": [-40, 60], "range": [1265, 995], "nice": false, "zero": false},
        "axis": {"orient": "right", "offset": -589, "values": [-40,-20,0,20,40,60], "labelExpr": "datum.value < 0 ? '-' + abs(datum.value) : '' + datum.value", "title": "%", "titleX": 9, "titleY": 965}},
  "color": {"datum": "美国企业所得税:(百分比-同比) (右轴)"}
 }}
],
"resolve": {"scale": {"y": "independent"}}
},
{
"layer": [
{"data": {"name": "capex"}, "mark": {"type": "line", "interpolate": "monotone", "strokeWidth": 2.5},
 "encoding": {
  "x": {"field": "t", "type": "quantitative", "scale": {"domain": [2010.08, 2024.97], "range": [583, 972], "nice": false, "zero": false},
        "axis": {"orient": "bottom", "offset": -201, "values": [2011,2012,2013,2014,2015,2016,2017,2018,2019,2020,2021,2022,2023,2024], "labelExpr": "format(datum.value % 100, '02d') + '/01'", "labelAngle": -90, "title": null}},
  "y": {"field": "v", "type": "quantitative", "scale": {"domain": [-30, 45], "range": [1265, 995], "nice": false, "zero": false},
        "axis": {"orient": "right", "offset": -108, "values": [-30,-15,0,15,30,45], "labelExpr": "datum.value < 0 ? '-' + abs(datum.value) : '' + datum.value", "title": "%", "titleX": 6, "titleY": 965}},
  "color": {"datum": "美国非金融公司 资本支出 十亿美元（同比）（右轴）", "scale": {"domain": ["平均小时收入同比", "美国非金融公司 资本支出 十亿美元（同比）（右轴）"], "range": ["#d9000d", "#8c8c8c"]},
        "legend": {"orient": "none", "legendX": 584, "legendY": 955, "title": null, "symbolType": "stroke", "symbolSize": 400, "symbolStrokeWidth": 3, "labelFontSize": 15, "labelOffset": 4}}
 }},
{"data": {"name": "ahe"}, "mark": {"type": "line", "strokeWidth": 2.5},
 "encoding": {
  "x": {"field": "t", "type": "quantitative"},
  "y": {"field": "v", "type": "quantitative", "scale": {"domain": [0, 10], "range": [1265, 995], "nice": false, "zero": false},
        "axis": {"orient": "left", "offset": -583, "values": [0,2,4,6,8,10], "title": "%", "titleX": -6, "titleY": 965}},
  "color": {"datum": "平均小时收入同比"}
 }}
],
"resolve": {"scale": {"y": "independent"}}
}
]
}
